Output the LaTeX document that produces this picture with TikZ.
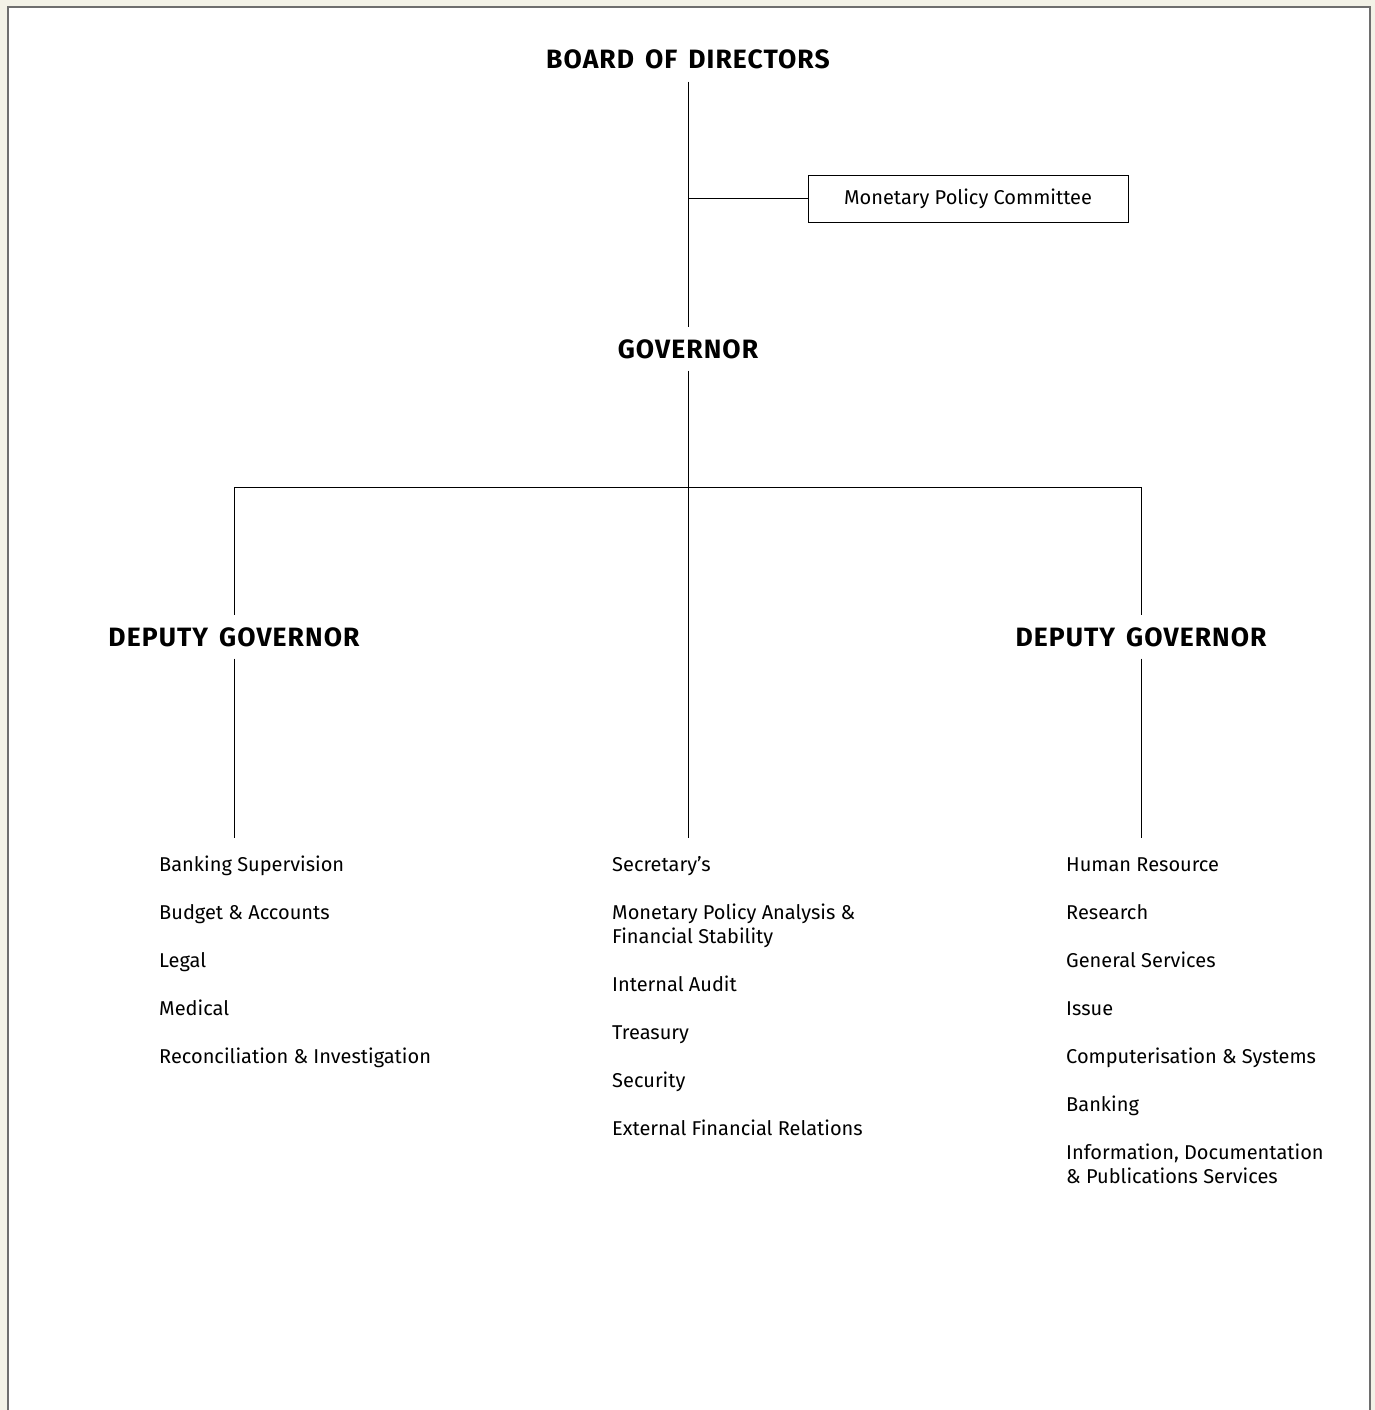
\documentclass[tikz,border=0pt]{standalone}
\usepackage{fontspec}
\setmainfont{Fira Sans}
\newfontfamily\headfont[LetterSpace=4,WordSpace=1.5]{Fira Sans}
\usetikzlibrary{positioning}
\definecolor{pagebg}{HTML}{F3F2E7}
\definecolor{framegray}{HTML}{6E6E6E}

\begin{document}
\begin{tikzpicture}[x=1pt,y=-1pt,
	head/.style = {font=\headfont\fontsize{26.5}{30}\selectfont\bfseries, inner sep=12pt, anchor=base},
	unit/.style = {font=\fontsize{20}{24}\selectfont, inner sep=0pt, anchor=north west, align=left},
	link/.style = {line width=0.9pt}]
	\useasboundingbox (0,0) rectangle (1375,1410);
	% page and frame
	\fill[pagebg] (0,0) rectangle (1375,1410);
	\fill[white] (8,7) rectangle (1370,1410);
	\draw[framegray,line width=2pt] (8,1410) -- (8,7) -- (1370,7) -- (1370,1410);

	% top of the chart
	\node[head] (board) at (688,69) {BOARD OF DIRECTORS};
	\node[head] (gov) at (688,358) {GOVERNOR};
	\node[draw,link,minimum width=320pt,minimum height=47pt,font=\fontsize{20}{24}\selectfont] (mpc) at (968,198.5) {Monetary Policy Committee};
	\node[head] (dgl) at (234,646) {DEPUTY GOVERNOR};
	\node[head] (dgr) at (1141,646) {DEPUTY GOVERNOR};

	\coordinate (tee) at (688,198.5);
	\coordinate (fork) at (688,487.5);
	\coordinate (endl) at (234,838);
	\coordinate (endc) at (688,838);
	\coordinate (endr) at (1141,838);

	\draw[link] (board) -- (gov);
	\draw[link] (tee) -- (mpc);
	\draw[link] (gov) -- (endc);
	\draw[link] (dgl) |- (fork) -| (dgr);
	\draw[link] (dgl) -- (endl);
	\draw[link] (dgr) -- (endr);

	% departments
	\begin{scope}[every node/.style={unit}]
		\node (l1) at (159,856) {Banking Supervision};
		\node (l2) at (159,904) {Budget \& Accounts};
		\node (l3) at (159,952) {Legal};
		\node (l4) at (159,1000) {Medical};
		\node (l5) at (159,1048) {Reconciliation \& Investigation};

		\node (c1) at (612,856) {Secretary’s};
		\node (c2) at (612,904) {Monetary Policy Analysis \&\\Financial Stability};
		\node (c3) at (612,976) {Internal Audit};
		\node (c4) at (612,1026) {Treasury};
		\node (c5) at (612,1072) {Security};
		\node (c6) at (612,1120) {External Financial Relations};

		\node (r1) at (1066,858) {Human Resource};
		\node (r2) at (1066,904) {Research};
		\node (r3) at (1066,952) {General Services};
		\node (r4) at (1066,1002) {Issue};
		\node (r5) at (1066,1048) {Computerisation \& Systems};
		\node (r6) at (1066,1096) {Banking};
		\node (r7) at (1066,1144) {Information, Documentation\\\& Publications Services};
	\end{scope}
\end{tikzpicture}
\end{document}
